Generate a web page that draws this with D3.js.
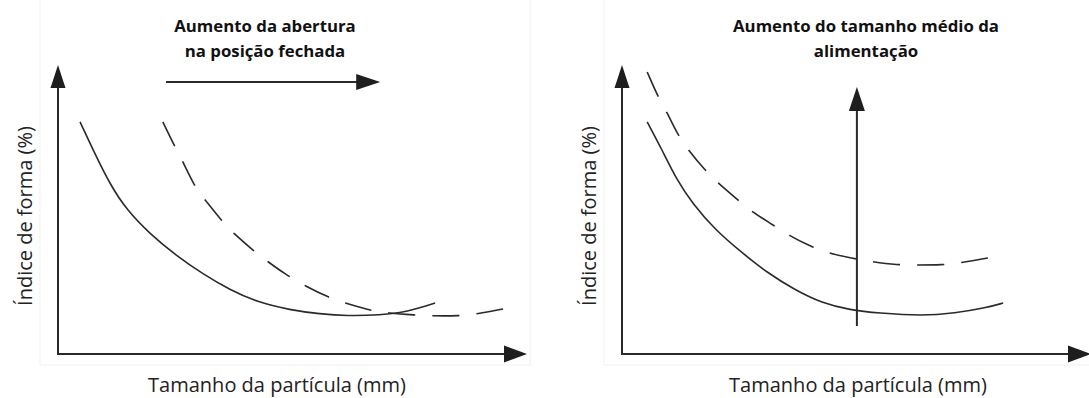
<!DOCTYPE html>
<html>
<head>
  <meta charset="utf-8">
  <title>Índice de forma</title>
  <script src="https://d3js.org/d3.v7.min.js"></script>
  <style>
    body {
      margin: 0;
      padding: 0;
      background: #ffffff;
    }
    .title {
      font-family: "Open Sans", sans-serif;
      font-weight: bold;
      font-size: 16.8px;
      fill: #111;
    }
    .axis-label {
      font-family: "Open Sans", sans-serif;
      font-size: 20px;
      fill: #222;
    }
  </style>
</head>
<body>
  <div id="chart"></div>

  <script>
    // curve data (arbitrary units, 0-100 on both axes)
    var leftSolidX  = [4.9, 7.8, 11.6, 15.3, 20.4, 26.4, 32.2, 38.2, 44.2, 51.6, 58.2, 64.2, 71.6, 77.6, 83.8];
    var leftSolidY  = [82.9, 72.9, 60.4, 51.4, 42.9, 35.0, 28.6, 22.9, 18.6, 15.7, 14.3, 13.6, 13.9, 15.0, 18.2];
    var leftDashX   = [23.3, 26.0, 27.8, 30.4, 32.7, 36.4, 38.9, 43.8, 46.7, 50.4, 54.9, 60.4, 63.8, 69.8, 73.3, 79.3, 83.1, 89.3, 93.1, 98.9];
    var leftDashY   = [82.9, 73.9, 68.6, 59.6, 55.0, 47.5, 43.2, 36.4, 32.9, 28.6, 24.3, 20.0, 18.2, 15.4, 14.6, 13.9, 13.6, 13.6, 14.3, 16.1];

    var rightSolidX = [5.6, 8.9, 12.2, 15.6, 20.7, 26.7, 32.4, 38.4, 44.4, 50.7, 56.9, 66.7, 74.0, 80.7, 84.7];
    var rightSolidY = [82.9, 72.9, 62.1, 53.9, 44.3, 36.1, 28.9, 22.9, 18.2, 15.7, 14.6, 13.6, 14.6, 16.4, 18.2];
    var rightDashX  = [5.6, 8.0, 10.0, 12.4, 14.7, 18.4, 21.3, 25.8, 28.9, 33.6, 36.9, 42.2, 45.8, 50.7, 55.6, 61.3, 65.1, 71.3, 75.1, 81.3];
    var rightDashY  = [100.7, 91.8, 86.4, 78.2, 72.9, 65.7, 61.1, 55.0, 50.7, 46.1, 42.5, 38.2, 36.1, 34.3, 32.9, 31.8, 31.8, 31.8, 32.5, 34.3];

    // annotation arrows: [x1, y1, x2, y2] in data units
    var leftArrow  = [24.0, 97.1, 71.6, 97.1];
    var rightArrow = [52.2, 10.0, 52.2, 95.4];

    var leftTitle  = ["Aumento da abertura", "na posição fechada"];
    var rightTitle = ["Aumento do tamanho médio da", "alimentação"];
    var xLabel = "Tamanho da partícula (mm)";
    var yLabel = "Índice de forma (%)";

    var width = 1089, height = 398;
    var ink = "#2a2a2a";
    var dashLen = 27, gapLen = 16;

    var svg = d3.select("#chart")
      .append("svg")
        .attr("width", width)
        .attr("height", height);

    function zip(xs, ys) {
      return xs.map(function(x, i) { return [x, ys[i]]; });
    }

    // filled triangle pointing from (x1,y1) towards (x2,y2), tip at (x2,y2)
    function arrowHead(g, x1, y1, x2, y2, len, w) {
      var a = Math.atan2(y2 - y1, x2 - x1);
      var bx = x2 - len * Math.cos(a), by = y2 - len * Math.sin(a);
      var nx = -Math.sin(a) * w / 2, ny = Math.cos(a) * w / 2;
      g.append("path")
        .attr("d", "M" + x2 + "," + y2 + "L" + (bx + nx) + "," + (by + ny) +
                   "L" + (bx - nx) + "," + (by - ny) + "Z")
        .attr("fill", "#1e1e1e");
    }

    function drawPanel(opts) {
      var g = svg.append("g");

      var x = d3.scaleLinear().domain([0, 100]).range([opts.x0, opts.x0 + 450]);
      var y = d3.scaleLinear().domain([0, 100]).range([354, 74]);

      // faint frame behind the panel
      g.append("rect")
        .attr("x", opts.x0 - 18).attr("y", -2)
        .attr("width", 490).attr("height", 367)
        .attr("fill", "none")
        .attr("stroke", "#f1f1f1")
        .attr("stroke-width", 1);

      // axes with arrow heads
      var ax0 = x(0), ay0 = y(0);
      var yTip = 65, xTip = opts.x0 + 469;
      g.append("line")
        .attr("x1", ax0).attr("y1", ay0).attr("x2", ax0).attr("y2", yTip + 10)
        .attr("stroke", ink).attr("stroke-width", 2);
      arrowHead(g, ax0, ay0, ax0, yTip, 23, 15);
      g.append("line")
        .attr("x1", ax0 - 1).attr("y1", ay0).attr("x2", xTip - 10).attr("y2", ay0)
        .attr("stroke", ink).attr("stroke-width", 2);
      arrowHead(g, ax0, ay0, xTip, ay0, 23, 17);

      var line = d3.line()
        .x(function(d) { return x(d[0]); })
        .y(function(d) { return y(d[1]); })
        .curve(d3.curveBasis);

      g.append("path")
        .datum(zip(opts.solidX, opts.solidY))
        .attr("d", line)
        .attr("fill", "none")
        .attr("stroke", ink)
        .attr("stroke-width", 1.6);

      var dashed = g.append("path")
        .datum(zip(opts.dashX, opts.dashY))
        .attr("d", line)
        .attr("fill", "none")
        .attr("stroke", ink)
        .attr("stroke-width", 1.6);

      // stretch the gaps a little so the dashes start and end on a dash
      var L = dashed.node().getTotalLength();
      var n = Math.max(1, Math.round((L - dashLen) / (dashLen + gapLen)));
      var gap = (L - dashLen) / n - dashLen;
      dashed.attr("stroke-dasharray", dashLen + "," + gap);

      // annotation arrow
      var a = opts.arrow;
      var x1 = x(a[0]), y1 = y(a[1]), x2 = x(a[2]), y2 = y(a[3]);
      g.append("line")
        .attr("x1", x1).attr("y1", y1)
        .attr("x2", x2 - (x2 - x1) * 0.05).attr("y2", y2 - (y2 - y1) * 0.05)
        .attr("stroke", ink).attr("stroke-width", 2);
      arrowHead(g, x1, y1, x2, y2, 24, 16);

      // title
      g.selectAll(".title")
        .data(opts.title)
        .enter().append("text")
          .attr("class", "title")
          .attr("x", opts.titleX)
          .attr("y", function(d, i) { return 32 + i * 25; })
          .attr("text-anchor", "middle")
          .text(function(d) { return d; });

      // axis labels
      g.append("text")
        .attr("class", "axis-label")
        .attr("x", opts.xLabelX)
        .attr("y", 392)
        .attr("text-anchor", "middle")
        .text(xLabel);

      g.append("text")
        .attr("class", "axis-label")
        .attr("transform", "translate(" + (opts.x0 - 26) + ",216) rotate(-90)")
        .attr("text-anchor", "middle")
        .text(yLabel);
    }

    drawPanel({
      x0: 58, solidX: leftSolidX, solidY: leftSolidY,
      dashX: leftDashX, dashY: leftDashY, arrow: leftArrow,
      title: leftTitle, titleX: 265, xLabelX: 277
    });

    drawPanel({
      x0: 622, solidX: rightSolidX, solidY: rightSolidY,
      dashX: rightDashX, dashY: rightDashY, arrow: rightArrow,
      title: rightTitle, titleX: 866, xLabelX: 858
    });
  </script>
</body>
</html>
